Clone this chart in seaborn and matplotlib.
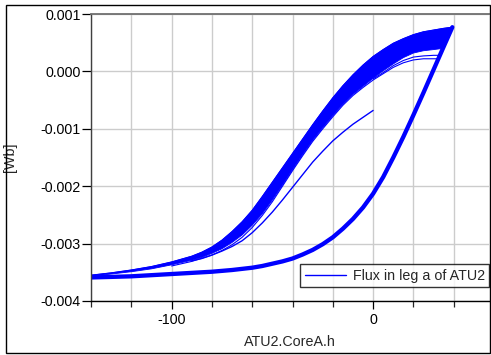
import matplotlib
matplotlib.use("Agg")
import matplotlib.pyplot as plt
from matplotlib.patches import Rectangle
from matplotlib.ticker import MultipleLocator, FuncFormatter
import seaborn as sns

# values (field h, flux in Wb)

# initial curve, starts at h = 0 and runs left into the descending band
init_h = [0, -5, -10, -15, -20, -25, -30, -35, -40, -45, -50, -55, -60,
          -65, -70, -75, -80, -85, -90]
init_b = [-0.00068, -0.00080, -0.00092, -0.00106, -0.00121, -0.00139,
          -0.00158, -0.00180, -0.00202, -0.00224, -0.00245, -0.00264,
          -0.00281, -0.00295, -0.00305, -0.00313, -0.00320, -0.00326,
          -0.00330]

# descending branch, last cycle (upper-left edge of the band)
upper_last_h = [39.3, 35, 30, 25, 20, 15, 10, 5, 0, -5, -10, -15, -20, -25,
                -30, -35, -40, -45, -50, -55, -60, -65, -70, -75, -80, -85,
                -90, -100, -110, -120, -130, -140]
upper_last_b = [0.00077, 0.00075, 0.00072, 0.00069, 0.00064, 0.00057,
                0.00049, 0.00038, 0.00026, 0.00011, -0.00006, -0.00025,
                -0.00046, -0.00069, -0.00093, -0.00118, -0.00143, -0.00168,
                -0.00193, -0.00218, -0.00242, -0.00262, -0.00279, -0.00294,
                -0.00306, -0.00315, -0.00322, -0.00332, -0.00340, -0.00346,
                -0.00351, -0.00355]

# descending branch, lower edge of the dense band
upper_low_h = [34.5, 30, 25, 20, 15, 10, 5, 0, -5, -10, -15, -20, -25, -30,
               -35, -40, -45, -50, -55, -60, -65, -70, -75, -80, -85, -90,
               -100, -110, -120, -130, -140]
upper_low_b = [0.00040, 0.00038, 0.00036, 0.00032, 0.00024, 0.00013,
               0.00001, -0.00012, -0.00026, -0.00040, -0.00057, -0.00077,
               -0.00098, -0.00120, -0.00145, -0.00171, -0.00198, -0.00224,
               -0.00248, -0.00268, -0.00285, -0.00298, -0.00309, -0.00317,
               -0.00324, -0.00329, -0.00337, -0.00344, -0.00349, -0.00353,
               -0.00357]

# first two descending branches (the thin separate lines)
upper_first_h = [32.3, 30, 25, 20, 15, 10, 5, 0, -5, -10, -15, -20, -25, -30,
                 -35, -40, -45, -50, -55, -60, -65, -70, -75, -80, -90, -100]
upper_first_b = [0.00022, 0.00022, 0.00022, 0.00020, 0.00015, 0.00007,
                 -0.00004, -0.00015, -0.00028, -0.00042, -0.00059, -0.00079,
                 -0.00100, -0.00122, -0.00147, -0.00173, -0.00200, -0.00227,
                 -0.00251, -0.00272, -0.00289, -0.00302, -0.00312, -0.00320,
                 -0.00331, -0.00339]
upper_second_h = [33, 30, 25, 20, 15, 10, 5, 0]
upper_second_b = [0.00028, 0.00028, 0.00027, 0.00025, 0.00019, 0.00010,
                  -0.00002, -0.00013]

# ascending branch
lower_h = [-140, -130, -120, -110, -100, -90, -80, -70, -60, -55, -50, -45,
           -40, -35, -30, -25, -20, -15, -10, -5, 0, 5, 10, 15, 20, 25, 30,
           35, 39.3]
lower_b = [-0.00359, -0.00358, -0.00357, -0.00355, -0.00353, -0.00351,
           -0.00349, -0.00346, -0.00342, -0.00339, -0.00335, -0.00331,
           -0.00326, -0.00319, -0.00311, -0.00301, -0.00289, -0.00274,
           -0.00257, -0.00237, -0.00213, -0.00184, -0.00150, -0.00114,
           -0.00076, -0.00037, 0.00003, 0.00043, 0.00077]

sns.set_style("ticks")
plt.rcParams["font.family"] = ["Liberation Sans", "DejaVu Sans"]
plt.rcParams["axes.unicode_minus"] = False
plt.rcParams["font.size"] = 10.3

blue = "#0000ff"

fig = plt.figure(figsize=(4.91, 3.55), dpi=100)
ax = fig.add_axes([91 / 491, 54 / 355, 398 / 491, 287 / 355])

# dense band of the later descending cycles
band_h = upper_last_h + upper_low_h[::-1]
band_b = upper_last_b + upper_low_b[::-1]
ax.fill(band_h, band_b, color=blue, lw=0.6, zorder=2)

sns.lineplot(x=init_h, y=init_b, sort=False, estimator=None, color=blue,
             lw=1, ax=ax, label="Flux in leg a of ATU2")
for hh, bb in [(upper_last_h, upper_last_b), (upper_first_h, upper_first_b),
               (upper_second_h, upper_second_b)]:
    sns.lineplot(x=hh, y=bb, sort=False, estimator=None, color=blue, lw=0.8, ax=ax)
sns.lineplot(x=lower_h, y=lower_b, sort=False, estimator=None, color=blue,
             lw=3.1, ax=ax)

ax.set_xlim(-140, 57.5)
ax.set_ylim(-0.004, 0.001)
ax.xaxis.set_major_locator(MultipleLocator(100))
ax.xaxis.set_minor_locator(MultipleLocator(20))
ax.yaxis.set_major_locator(MultipleLocator(0.001))
ax.yaxis.set_major_formatter(FuncFormatter(
    lambda v, p: "0.000" if abs(v) < 1e-9 else f"{v:.3f}"))

ax.grid(True, which="both", axis="x", color="#cccccc", lw=1.0)
ax.grid(True, which="major", axis="y", color="#cccccc", lw=1.0)
ax.set_axisbelow(True)

ax.spines["right"].set_visible(False)
ax.spines["top"].set_color("#707070")
ax.spines["top"].set_linewidth(1.3)
ax.spines["left"].set_color("#404040")
ax.spines["left"].set_linewidth(1.0)
ax.spines["bottom"].set_color("black")
ax.spines["bottom"].set_linewidth(1.0)

ax.tick_params(axis="x", which="major", direction="out", length=6, width=0.9,
               pad=3, colors="black")
ax.tick_params(axis="x", which="minor", direction="out", length=4.5, width=0.9)
ax.tick_params(axis="y", which="major", direction="out", length=6.5, width=0.9,
               pad=1, colors="black")

ax.set_xlabel("ATU2.CoreA.h")
ax.set_ylabel("[Wb]")
ax.xaxis.set_label_coords(0.5, -0.118)
ax.yaxis.set_label_coords(-0.186, 0.5)

leg = ax.legend(loc="lower right", bbox_to_anchor=(1.0, 0.049),
                borderaxespad=0, fancybox=False, frameon=True,
                edgecolor="black", handlelength=2.9, handletextpad=0.45,
                borderpad=0.3, fontsize=10.3)
leg.get_frame().set_linewidth(1.0)

fig.patches.append(Rectangle((0.0132, 0.0056), 0.9847, 0.9803,
                             transform=fig.transFigure, fill=False,
                             ec="black", lw=1.0))

fig.savefig("out.png", dpi=100)
